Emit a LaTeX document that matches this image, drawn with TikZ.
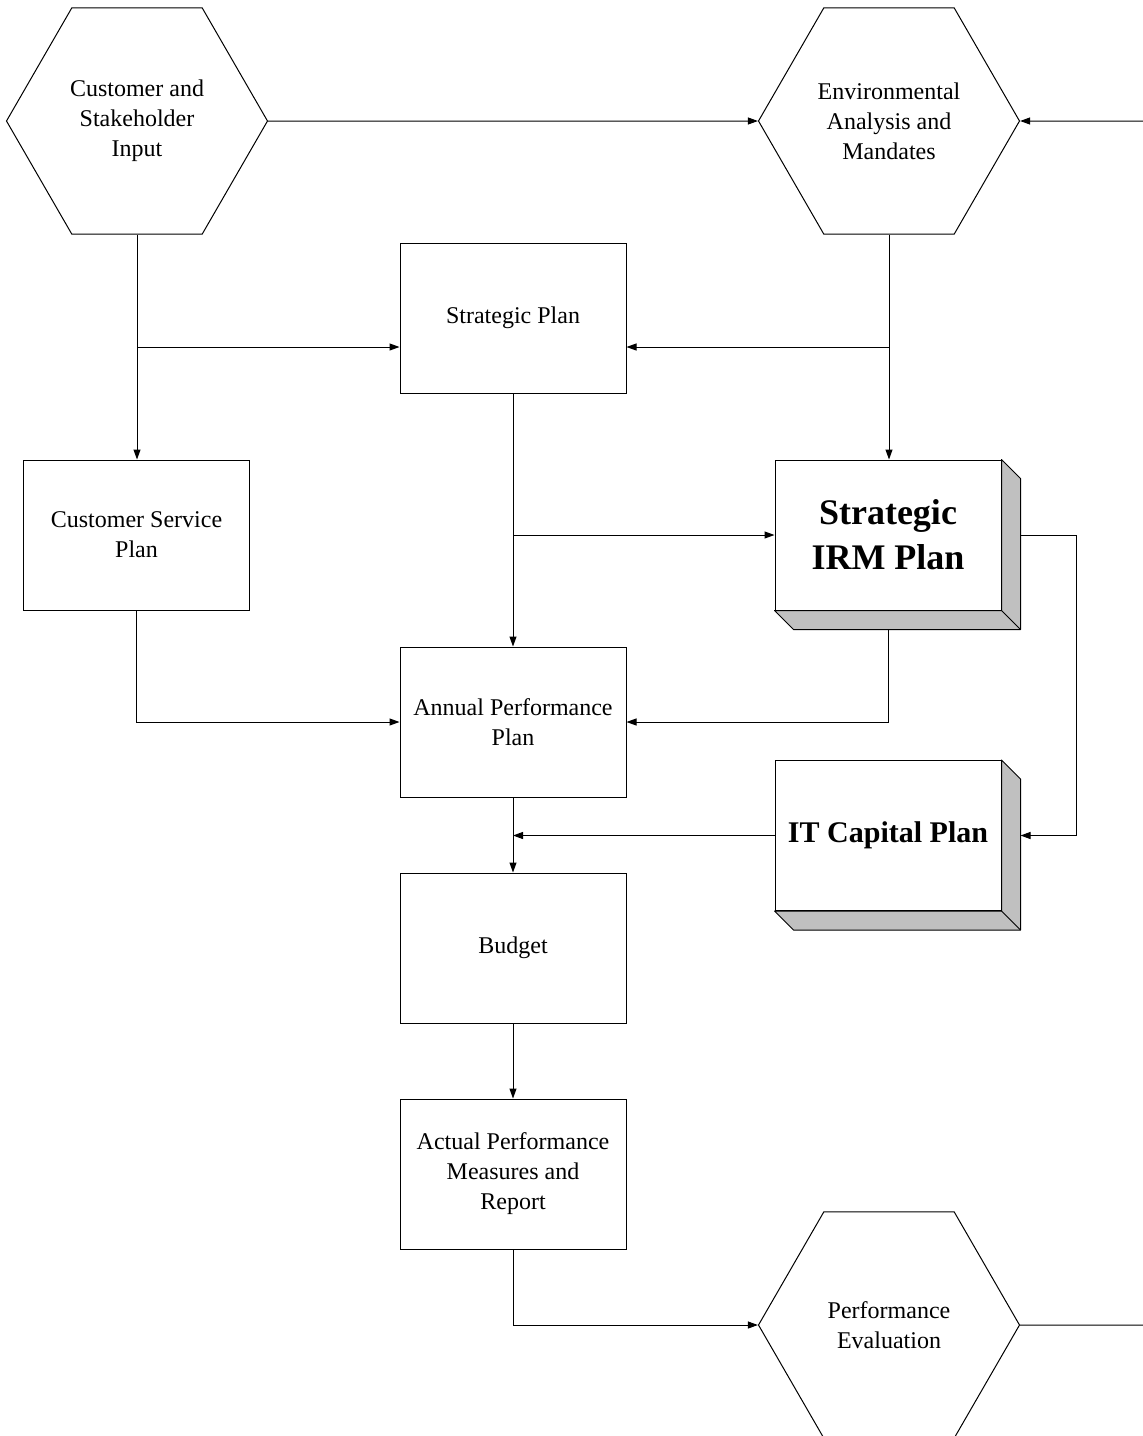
\documentclass[tikz,border=0pt]{standalone}
\usepackage{fontspec}
\setmainfont{Liberation Serif}
\usetikzlibrary{arrows.meta, positioning, shapes.geometric, calc}
\definecolor{depthgray}{RGB}{192, 192, 192}

\begin{document}
\begin{tikzpicture}[
    x=0.5pt, y=-0.5pt,
    hexbox/.style={
        draw, regular polygon, regular polygon sides=6,
        minimum size=130.5pt, inner sep=0pt, line width=0.5pt,
        align=center, font=\fontsize{12}{15}\selectfont
    },
    planbox/.style={
        draw, line width=0.5pt, minimum width=113pt, minimum height=75pt,
        align=center, font=\fontsize{12}{15}\selectfont
    },
    irmbox/.style={
        draw, fill=white, line width=0.5pt, minimum width=113pt, minimum height=75pt,
        align=center, font=\bfseries\fontsize{18}{22.5}\selectfont
    },
    itbox/.style={
        irmbox, font=\bfseries\fontsize{15}{18}\selectfont
    },
    depth/.style={fill=depthgray, draw, line width=0.5pt, line join=round},
    arrow/.style={-{Triangle[length=5pt, width=3.5pt]}, line width=0.5pt},
    line/.style={line width=0.5pt}
]
\useasboundingbox (0,0) rectangle (1143,1436);

% HEXAGONS
\node[hexbox] (custin) at (137,121) {Customer and\\Stakeholder\\Input};
\node[hexbox] (envin) at (889,121) {Environmental\\Analysis and\\Mandates};
\node[hexbox] (perfeval) at (889,1325) {Performance\\Evaluation};

% PLAN BOXES
\node[planbox] (stratplan) at (513,318) {Strategic Plan};
\node[planbox] (custserv) at (136.5,535) {Customer Service\\Plan};
\node[planbox] (annplan) at (513,722) {Annual Performance\\Plan};
\node[planbox, below=37.5pt of annplan] (budget) {Budget};
\node[planbox, below=37.5pt of budget] (actual) {Actual Performance\\Measures and\\Report};

% 3D BOXES - shaded side and bottom faces behind the front
\node[irmbox] (irmplan) at (888,535) {Strategic\\IRM Plan};
\node[itbox] (itcap) at (888,835.5) {IT Capital Plan};

\filldraw[depth] (irmplan.north east) -- ++(19,19) -- ($(irmplan.south east)+(19,19)$)
    -- ($(irmplan.south west)+(19,19)$) -- (irmplan.south west) -- (irmplan.south east) -- cycle;
\draw[line] (irmplan.south east) -- ++(19,19);
\filldraw[depth] (itcap.north east) -- ++(19,19) -- ($(itcap.south east)+(19,19)$)
    -- ($(itcap.south west)+(19,19)$) -- (itcap.south west) -- (itcap.south east) -- cycle;
\draw[line] (itcap.south east) -- ++(19,19);

% JOIN POINTS
\coordinate (custsplit) at (137,347);
\coordinate (envsplit) at (889,347);
\coordinate (irmbase) at ($(irmplan.south)+(0,19)$);
\coordinate (irmside) at ($(irmplan.east)+(19,0)$);
\coordinate (itside) at ($(itcap.east)+(19,0)$);
\coordinate (edgetop) at (1145,121);
\coordinate (edgebot) at (1145,1325);

% ARROWS: TOP ROW
\draw[arrow] (custin.east) -- (envin.west);
\draw[arrow] (edgetop) -- (envin.east);

% ARROWS: INPUTS -> PLANS
\draw[arrow] (custin.south) -- (custin.south |- custserv.north);
\draw[arrow] (custsplit) -- (custsplit -| stratplan.west);
\draw[arrow] (envin.south) -- (envin.south |- irmplan.north);
\draw[arrow] (envsplit) -- (envsplit -| stratplan.east);
\draw[arrow] (stratplan.south) -- (annplan.north);
\draw[arrow] (stratplan.south |- irmplan.west) -- (irmplan.west);

% ARROWS: PLANS -> ANNUAL PLAN
\draw[arrow] (custserv.south) |- (annplan.west);
\draw[arrow] (irmbase) |- (annplan.east);
\draw[arrow] (irmside) -- ++(56,0) |- (itside);
\draw[arrow] (itcap.west) -- (itcap.west -| annplan.south);

% ARROWS: DOWN THE MIDDLE
\draw[arrow] (annplan.south) -- (budget.north);
\draw[arrow] (budget.south) -- (actual.north);
\draw[arrow] (actual.south) |- (perfeval.west);
\draw[line] (perfeval.east) -- (edgebot);

\end{tikzpicture}
\end{document}
